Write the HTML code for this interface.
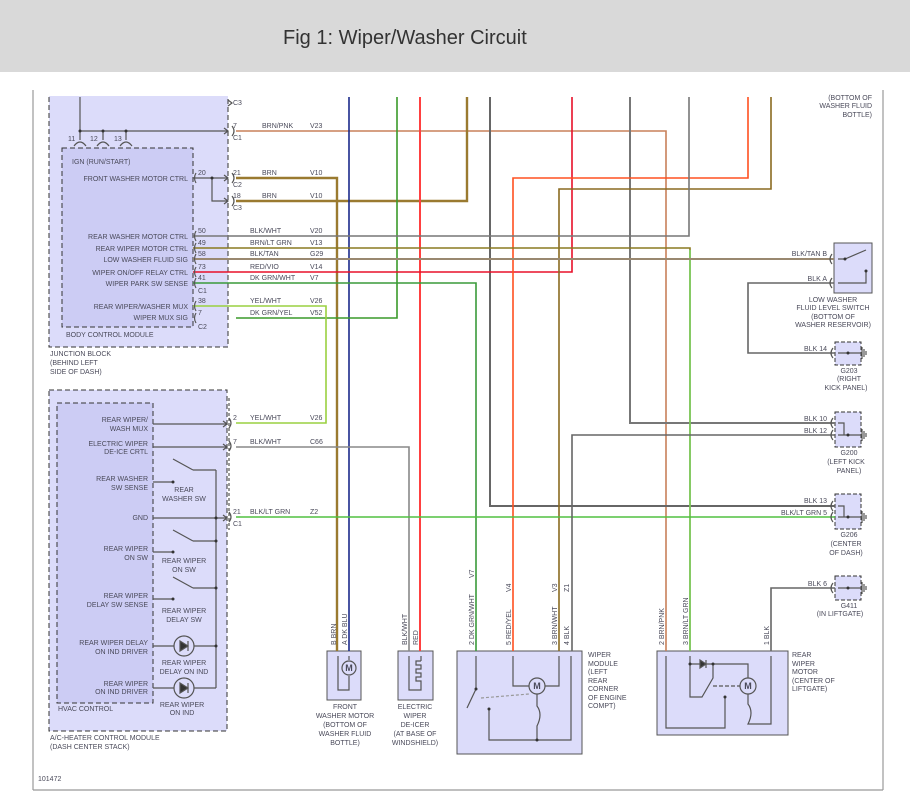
<!DOCTYPE html>
<html><head><meta charset="utf-8"><style>
html,body{margin:0;padding:0;background:#fff;}
svg{display:block;}
text{font-family:"Liberation Sans",sans-serif;font-size:7px;fill:#4a4a5a;}
.h{font-size:20px;fill:#333;}
</style></head><body>
<svg width="910" height="804" viewBox="0 0 910 804" xmlns="http://www.w3.org/2000/svg">
<!-- module boxes -->
<rect x="49" y="70" width="179" height="277" fill="#dcdcfa" stroke="#333" stroke-dasharray="5,3"/>
<rect x="62" y="148" width="131" height="179" fill="#ccccf4" stroke="#333" stroke-dasharray="5,3"/>
<rect x="0" y="72" width="910" height="24" fill="#fff"/>
<rect x="0" y="0" width="910" height="72" fill="#d9d9d9"/>
<text class="h" x="283" y="44">Fig 1: Wiper/Washer Circuit</text>
<!-- frame -->
<g stroke="#999" stroke-width="1.2" fill="none">
<line x1="33" y1="90" x2="33" y2="790"/><line x1="883" y1="90" x2="883" y2="790"/><line x1="33" y1="790" x2="883" y2="790"/>
</g>
<rect x="49" y="390" width="178" height="341" fill="#dcdcfa" stroke="#333" stroke-dasharray="5,3"/>
<rect x="57" y="403" width="96" height="300" fill="#ccccf4" stroke="#333" stroke-dasharray="5,3"/>
<rect x="834" y="243" width="38" height="50" fill="#dcdcfa" stroke="#555"/>
<rect x="835" y="342" width="26" height="23" fill="#dcdcfa" stroke="#333" stroke-dasharray="4,2"/>
<rect x="835" y="412" width="26" height="35" fill="#dcdcfa" stroke="#333" stroke-dasharray="4,2"/>
<rect x="835" y="494" width="26" height="35" fill="#dcdcfa" stroke="#333" stroke-dasharray="4,2"/>
<rect x="835" y="576" width="26" height="24" fill="#dcdcfa" stroke="#333" stroke-dasharray="4,2"/>
<rect x="327" y="651" width="34" height="49" fill="#dcdcfa" stroke="#555"/>
<rect x="398" y="651" width="35" height="49" fill="#dcdcfa" stroke="#555"/>
<rect x="457" y="651" width="125" height="103" fill="#dcdcfa" stroke="#555"/>
<rect x="657" y="651" width="131" height="84" fill="#dcdcfa" stroke="#555"/>

<!-- wires -->
<g fill="none" stroke-width="1.6">
<polyline points="236,131 666,131 666,651" stroke="#c8805a"/>
<polyline points="236,178 337,178 337,651" stroke="#9a7a30" stroke-width="2.4"/>
<polyline points="236,201 467,201 467,97" stroke="#9a7a30" stroke-width="2.4"/>
<line x1="349" y1="97" x2="349" y2="651" stroke="#1a2a8a"/>
<polyline points="236,318 397,318 397,97" stroke="#3a9a2a"/>
<line x1="420" y1="97" x2="420" y2="651" stroke="#ff4040" stroke-width="2"/>
<polyline points="490,97 490,506 835,506" stroke="#666" stroke-width="2"/>
<polyline points="193,272 572,272 572,97" stroke="#e8102a"/>
<polyline points="630,97 630,423 835,423" stroke="#777" stroke-width="2"/>
<polyline points="748,97 748,178 513,178 513,651" stroke="#ff5020"/>
<polyline points="771,97 771,189 559,189 559,651" stroke="#8a6a20"/>
<polyline points="193,236 689,236 689,97" stroke="#777"/>
<polyline points="193,248 690,248 690,651" stroke="#8a7a20"/>
<line x1="690" y1="250" x2="690" y2="651" stroke="#7ad060"/>
<line x1="193" y1="259" x2="834" y2="259" stroke="#998870" stroke-width="2"/>
<polyline points="193,283 476,283 476,651" stroke="#3a9a3a"/>
<polyline points="193,306 326,306 326,423 236,423" stroke="#9ad040"/>
<polyline points="236,447 409,447 409,651" stroke="#888"/>
<line x1="236" y1="517" x2="835" y2="517" stroke="#50c040"/>
<polyline points="572,651 572,435 835,435" stroke="#666"/>
<polyline points="834,283 748,283 748,353 835,353" stroke="#666"/>
<polyline points="771,651 771,588 835,588" stroke="#666"/>
</g>
<!-- internal JB lines -->
<g fill="none" stroke="#555" stroke-width="1.2">
<polyline points="80,97 80,131 228,131"/>
<line x1="193" y1="178" x2="228" y2="178"/><polyline points="212,178 212,201 228,201"/>
<line x1="103" y1="131" x2="103" y2="140"/><line x1="126" y1="131" x2="126" y2="140"/><line x1="80" y1="131" x2="80" y2="140"/>
<path d="M74,146 q6,-8 12,0 M97,146 q6,-8 12,0 M120,146 q6,-8 12,0"/>
<line x1="153" y1="424" x2="226" y2="424"/><line x1="153" y1="447" x2="226" y2="447"/>
<line x1="153" y1="518" x2="226" y2="518"/>
<line x1="153" y1="482" x2="173" y2="482"/><line x1="173" y1="459" x2="193" y2="470"/><line x1="193" y1="470" x2="216" y2="470"/>
<line x1="153" y1="552" x2="173" y2="552"/><line x1="173" y1="530" x2="193" y2="541"/><line x1="193" y1="541" x2="216" y2="541"/>
<line x1="153" y1="599" x2="173" y2="599"/><line x1="173" y1="577" x2="193" y2="588"/><line x1="193" y1="588" x2="216" y2="588"/>
<line x1="153" y1="646" x2="216" y2="646"/><line x1="153" y1="688" x2="216" y2="688"/>
<line x1="216" y1="470" x2="216" y2="688"/>
<circle cx="184" cy="646" r="10" fill="#dcdcfa"/><circle cx="184" cy="688" r="10" fill="#dcdcfa"/>
<path d="M180,641 l8,5 l-8,5 z M188,641 v10" fill="#333"/>
<path d="M180,683 l8,5 l-8,5 z M188,683 v10" fill="#333"/>
<path d="M228,100 l4,3 l-4,3 M224,128 l4,3 l-4,3 M224,175 l4,3 l-4,3 M224,198 l4,3 l-4,3 M223,421 l4,3 l-4,3 M223,444 l4,3 l-4,3 M223,515 l4,3 l-4,3"/>
<path d="M232,126 q4,5 0,10 M232,173 q4,5 0,10 M232,196 q4,5 0,10 M229,418 q4,5 0,10 M229,441 q4,5 0,10 M229,512 q4,5 0,10"/>
<path d="M196,231 q-3,5 0,10 M196,243 q-3,5 0,10 M196,254 q-3,5 0,10 M196,267 q-3,5 0,10 M196,278 q-3,5 0,10 M196,301 q-3,5 0,10 M196,313 q-3,5 0,10 M196,173 q-3,5 0,10"/>
<line x1="229" y1="398" x2="229" y2="530" stroke-dasharray="3,2"/>
<path d="M832,254 q-4,5 0,10 M832,278 q-4,5 0,10 M833,348 q-4,5 0,10 M833,418 q-4,5 0,10 M833,430 q-4,5 0,10 M833,501 q-4,5 0,10 M833,512 q-4,5 0,10 M833,583 q-4,5 0,10"/>
<polyline points="838,259 845,259 866,250"/><polyline points="838,283 866,283 866,271"/>
<path d="M838,353 h24 M838,423 h6 v12 M838,435 h24 M838,506 h6 v11 M838,517 h24 M838,588 h24"/>
<path d="M862,347 v12 M864,349 v8 M866,351 v4 M862,429 v12 M864,431 v8 M866,433 v4 M862,511 v12 M864,513 v8 M866,515 v4 M862,582 v12 M864,584 v8 M866,586 v4"/>
<polyline points="338,656 338,690 349,690 349,676"/><line x1="349" y1="656" x2="349" y2="660"/>
<circle cx="349" cy="668" r="7" fill="#dcdcfa"/>
<polyline points="409,656 409,690 421,690 421,684"/><line x1="421" y1="656" x2="421" y2="661"/>
<path d="M421,661 h-5 v4 h5 v4 h-5 v4 h5 v4 h-5 v4 h5 v3"/>
<polyline points="476,656 476,689 467,708"/>
<polyline points="513,656 513,686 529,686"/><polyline points="559,656 559,686 545,686"/>
<circle cx="537" cy="686" r="8" fill="#dcdcfa"/>
<line x1="481" y1="698" x2="529" y2="694" stroke="#999" stroke-dasharray="3,2"/>
<path d="M537,694 v12 q6,8 0,20 v14"/>
<polyline points="489,709 489,740 571,740 571,656"/>
<polyline points="666,656 666,728 725,728 725,697"/>
<polyline points="690,656 690,697 702,697 713,678 713,664"/>
<polyline points="690,664 748,664 748,678"/>
<path d="M700,660 l6,4 l-6,4 z M706,660 v8" fill="#333"/>
<line x1="713" y1="686" x2="740" y2="686" stroke-dasharray="4,2"/>
<circle cx="748" cy="686" r="8" fill="#dcdcfa"/>
<path d="M748,694 v10 q6,8 0,20 h23 v-68"/>
</g>
<g fill="#333">
<circle cx="80" cy="131" r="1.5"/><circle cx="103" cy="131" r="1.5"/><circle cx="126" cy="131" r="1.5"/><circle cx="212" cy="178" r="1.5"/>
<circle cx="173" cy="482" r="1.5"/><circle cx="173" cy="552" r="1.5"/><circle cx="173" cy="599" r="1.5"/><circle cx="216" cy="518" r="1.5"/>
<circle cx="216" cy="646" r="1.5"/><circle cx="216" cy="541" r="1.5"/><circle cx="216" cy="588" r="1.5"/>
<circle cx="845" cy="259" r="1.5"/><circle cx="866" cy="271" r="1.5"/><circle cx="848" cy="353" r="1.5"/><circle cx="848" cy="435" r="1.5"/><circle cx="848" cy="517" r="1.5"/><circle cx="848" cy="588" r="1.5"/>
<circle cx="476" cy="689" r="1.5"/><circle cx="489" cy="709" r="1.5"/><circle cx="537" cy="740" r="1.5"/><circle cx="725" cy="697" r="1.5"/><circle cx="713" cy="664" r="1.5"/><circle cx="690" cy="664" r="1.5"/>
</g>
<g font-weight="bold" text-anchor="middle">
<text x="349" y="671" style="font-size:9px">M</text><text x="537" y="689" style="font-size:9px">M</text><text x="748" y="689" style="font-size:9px">M</text>
</g>

<text x="233" y="105">C3</text>
<text x="68" y="141">11</text><text x="90" y="141">12</text><text x="114" y="141">13</text>
<text x="72" y="164">IGN (RUN/START)</text>
<g text-anchor="end">
<text x="188" y="181">FRONT WASHER MOTOR CTRL</text>
<text x="188" y="239">REAR WASHER MOTOR CTRL</text>
<text x="188" y="251">REAR WIPER MOTOR CTRL</text>
<text x="188" y="262">LOW WASHER FLUID SIG</text>
<text x="188" y="275">WIPER ON/OFF RELAY CTRL</text>
<text x="188" y="286">WIPER PARK SW SENSE</text>
<text x="188" y="309">REAR WIPER/WASHER MUX</text>
<text x="188" y="320">WIPER MUX SIG</text>
<text x="148" y="422">REAR WIPER/</text><text x="148" y="431">WASH MUX</text>
<text x="148" y="446">ELECTRIC WIPER</text><text x="148" y="454">DE-ICE CRTL</text>
<text x="148" y="481">REAR WASHER</text><text x="148" y="490">SW SENSE</text>
<text x="148" y="520">GND</text>
<text x="148" y="551">REAR WIPER</text><text x="148" y="560">ON SW</text>
<text x="148" y="598">REAR WIPER</text><text x="148" y="607">DELAY SW SENSE</text>
<text x="148" y="645">REAR WIPER DELAY</text><text x="148" y="654">ON IND DRIVER</text>
<text x="148" y="686">REAR WIPER</text><text x="148" y="694">ON IND DRIVER</text>
<text x="872" y="100">(BOTTOM OF</text><text x="872" y="108">WASHER FLUID</text><text x="872" y="117">BOTTLE)</text>
<text x="827" y="256">BLK/TAN  B</text><text x="827" y="281">BLK  A</text>
<text x="827" y="351">BLK   14</text>
<text x="827" y="421">BLK   10</text><text x="827" y="433">BLK   12</text>
<text x="827" y="503">BLK   13</text><text x="827" y="515">BLK/LT GRN     5</text>
<text x="827" y="586">BLK     6</text>
</g>
<g text-anchor="middle">
<text x="184" y="492">REAR</text><text x="184" y="501">WASHER SW</text>
<text x="184" y="563">REAR WIPER</text><text x="184" y="572">ON SW</text>
<text x="184" y="613">REAR WIPER</text><text x="184" y="622">DELAY SW</text>
<text x="184" y="665">REAR WIPER</text><text x="184" y="674">DELAY ON IND</text>
<text x="182" y="707">REAR WIPER</text><text x="182" y="715">ON IND</text>
<text x="833" y="302">LOW WASHER</text><text x="833" y="310">FLUID LEVEL SWITCH</text><text x="833" y="319">(BOTTOM OF</text><text x="833" y="327">WASHER RESERVOIR)</text>
<text x="849" y="373">G203</text><text x="849" y="381">(RIGHT</text><text x="846" y="390">KICK PANEL)</text>
<text x="849" y="455">G200</text><text x="846" y="464">(LEFT KICK</text><text x="849" y="473">PANEL)</text>
<text x="849" y="537">G206</text><text x="846" y="546">(CENTER</text><text x="846" y="555">OF DASH)</text>
<text x="849" y="608">G411</text><text x="840" y="616">(IN LIFTGATE)</text>
<text x="345" y="709">FRONT</text><text x="345" y="718">WASHER MOTOR</text><text x="345" y="727">(BOTTOM OF</text><text x="345" y="736">WASHER FLUID</text><text x="345" y="745">BOTTLE)</text>
<text x="415" y="709">ELECTRIC</text><text x="415" y="718">WIPER</text><text x="415" y="727">DE-ICER</text><text x="415" y="736">(AT BASE OF</text><text x="415" y="745">WINDSHIELD)</text>
</g>
<text x="233" y="128">7</text><text x="262" y="128">BRN/PNK</text><text x="310" y="128">V23</text><text x="233" y="140">C1</text>
<text x="233" y="175">21</text><text x="262" y="175">BRN</text><text x="310" y="175">V10</text><text x="233" y="187">C2</text>
<text x="233" y="198">18</text><text x="262" y="198">BRN</text><text x="310" y="198">V10</text><text x="233" y="210">C3</text>
<text x="198" y="175">20</text>
<text x="198" y="233">50</text><text x="250" y="233">BLK/WHT</text><text x="310" y="233">V20</text>
<text x="198" y="245">49</text><text x="250" y="245">BRN/LT GRN</text><text x="310" y="245">V13</text>
<text x="198" y="256">58</text><text x="250" y="256">BLK/TAN</text><text x="310" y="256">G29</text>
<text x="198" y="269">73</text><text x="250" y="269">RED/VIO</text><text x="310" y="269">V14</text>
<text x="198" y="280">41</text><text x="250" y="280">DK GRN/WHT</text><text x="310" y="280">V7</text>
<text x="198" y="293">C1</text>
<text x="198" y="303">38</text><text x="250" y="303">YEL/WHT</text><text x="310" y="303">V26</text>
<text x="198" y="315">7</text><text x="250" y="315">DK GRN/YEL</text><text x="310" y="315">V52</text>
<text x="198" y="329">C2</text>
<text x="66" y="337">BODY CONTROL MODULE</text>
<text x="50" y="356">JUNCTION BLOCK</text><text x="50" y="365">(BEHIND LEFT</text><text x="50" y="374">SIDE OF DASH)</text>
<text x="233" y="420">2</text><text x="250" y="420">YEL/WHT</text><text x="310" y="420">V26</text>
<text x="233" y="444">7</text><text x="250" y="444">BLK/WHT</text><text x="310" y="444">C66</text>
<text x="233" y="514">21</text><text x="250" y="514">BLK/LT GRN</text><text x="310" y="514">Z2</text><text x="233" y="526">C1</text>
<text x="58" y="711">HVAC CONTROL</text>
<text x="50" y="740">A/C-HEATER CONTROL MODULE</text><text x="50" y="749">(DASH CENTER STACK)</text>
<text x="38" y="781">101472</text>
<g>
<text x="588" y="657">WIPER</text><text x="588" y="666">MODULE</text><text x="588" y="674">(LEFT</text><text x="588" y="683">REAR</text><text x="588" y="691">CORNER</text><text x="588" y="700">OF ENGINE</text><text x="588" y="708">COMPT)</text>
<text x="792" y="657">REAR</text><text x="792" y="666">WIPER</text><text x="792" y="674">MOTOR</text><text x="792" y="683">(CENTER OF</text><text x="792" y="691">LIFTGATE)</text>
</g>
<g>
<text transform="translate(336,645) rotate(-90)">B  BRN</text>
<text transform="translate(347,645) rotate(-90)">A  DK BLU</text>
<text transform="translate(407,645) rotate(-90)">BLK/WHT</text>
<text transform="translate(418,645) rotate(-90)">RED</text>
<text transform="translate(474,645) rotate(-90)">2  DK GRN/WHT</text>
<text transform="translate(511,645) rotate(-90)">5  RED/YEL</text>
<text transform="translate(557,645) rotate(-90)">3  BRN/WHT</text>
<text transform="translate(569,645) rotate(-90)">4  BLK</text>
<text transform="translate(664,645) rotate(-90)">2  BRN/PNK</text>
<text transform="translate(688,645) rotate(-90)">3  BRN/LT GRN</text>
<text transform="translate(769,645) rotate(-90)">1  BLK</text>
<text transform="translate(474,578) rotate(-90)">V7</text>
<text transform="translate(511,592) rotate(-90)">V4</text>
<text transform="translate(557,592) rotate(-90)">V3</text>
<text transform="translate(569,592) rotate(-90)">Z1</text>
</g>
</svg>
</body></html>
